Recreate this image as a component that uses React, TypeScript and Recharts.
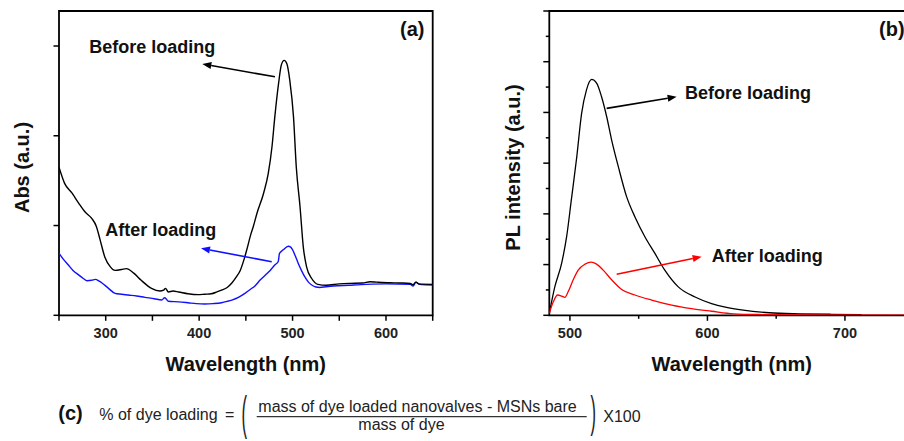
import React from 'react';
import { LineChart, Line, XAxis, YAxis, ReferenceLine, ReferenceArea } from 'recharts';

const FONT = '"Liberation Sans", Arial, Helvetica, sans-serif';

// (a) absorbance, before loading
const absBeforeNm = [250, 256, 264, 271, 278, 285, 290, 294, 299, 305, 310, 317, 322, 330, 338, 349, 358, 362, 364, 367, 372, 378, 388, 399, 406, 413, 419, 424, 430, 435, 440, 444, 448, 451, 455, 458, 462, 469, 474, 478, 481, 485, 488, 491, 494, 497, 501, 504, 508, 511.5, 515, 520.5, 527, 536, 550, 561, 575, 583, 590, 604, 615, 626, 629, 632, 635, 650];
const absBefore = [1.65, 1.47, 1.36, 1.25, 1.15, 1.08, 0.99, 0.84, 0.65, 0.54, 0.5, 0.51, 0.52, 0.47, 0.39, 0.3, 0.27, 0.28, 0.3, 0.26, 0.27, 0.26, 0.24, 0.23, 0.235, 0.24, 0.26, 0.28, 0.31, 0.36, 0.43, 0.5, 0.62, 0.73, 0.89, 0.99, 1.14, 1.36, 1.58, 1.88, 2.21, 2.58, 2.79, 2.84, 2.8, 2.62, 2.21, 1.65, 1.21, 0.76, 0.54, 0.41, 0.345, 0.335, 0.35, 0.356, 0.36, 0.374, 0.37, 0.363, 0.36, 0.355, 0.34, 0.37, 0.35, 0.345];

// (a) absorbance, after loading
const absAfterNm = [250, 255, 260, 265, 271, 276, 280, 285, 289, 293, 296, 303, 310, 317, 324, 333, 342, 352, 360, 363, 365, 367, 378, 388, 397, 406, 415, 424, 430, 435, 442, 449, 455, 460, 465, 471, 476, 481, 484.7, 486, 490, 495.5, 498, 500, 503, 506, 510, 513, 517, 520.5, 525, 529, 536, 544, 560, 579, 600, 626, 629, 632, 636, 650];
const absAfter = [0.69, 0.62, 0.56, 0.5, 0.45, 0.41, 0.385, 0.39, 0.4, 0.38, 0.36, 0.3, 0.245, 0.235, 0.226, 0.215, 0.2, 0.185, 0.17, 0.196, 0.18, 0.156, 0.15, 0.14, 0.13, 0.126, 0.13, 0.14, 0.155, 0.17, 0.2, 0.245, 0.29, 0.33, 0.39, 0.45, 0.5, 0.56, 0.6, 0.69, 0.73, 0.77, 0.76, 0.73, 0.66, 0.58, 0.49, 0.43, 0.37, 0.337, 0.315, 0.31, 0.318, 0.326, 0.335, 0.345, 0.35, 0.345, 0.325, 0.37, 0.345, 0.337];

// (b) PL intensity, before loading
const plBeforeNm = [485, 489, 494, 497.6, 501, 505, 508.5, 512, 515.8, 519.4, 523, 526.7, 530.3, 535.2, 541.2, 547.3, 554.5, 561.8, 569, 578.8, 591, 603, 613, 626, 645, 667, 690, 712];
const plBefore = [0.04, 0.56, 1.03, 1.55, 2.27, 3.13, 3.98, 4.44, 4.65, 4.58, 4.31, 3.92, 3.46, 2.93, 2.34, 1.94, 1.55, 1.22, 0.89, 0.56, 0.36, 0.23, 0.16, 0.1, 0.05, 0.03, 0.02, 0.015];

// (b) PL intensity, after loading
const plAfterNm = [485, 488, 491, 494, 496.4, 498.8, 502.4, 506, 511, 515.3, 519.4, 524.2, 530.3, 537.6, 547.3, 559.4, 574, 588.5, 603, 619, 640, 670, 750];
const plAfter = [0.04, 0.27, 0.4, 0.38, 0.355, 0.47, 0.7, 0.89, 1.01, 1.05, 1.01, 0.89, 0.7, 0.51, 0.4, 0.3, 0.2, 0.13, 0.08, 0.03, 0.015, 0.008, 0.005];

const absXTicks = [250, 300, 350, 400, 450, 500, 550, 600, 650];
const absYTicks = [0, 1, 2, 3];
const plXTicks = [500, 550, 600, 650, 700, 750];
const plYTicks = [0, 0.5, 1, 1.5, 2, 2.5, 3, 3.5, 4, 4.5, 5, 5.5, 6];

const toPoints = (xs: number[], ys: number[]) => xs.map((x, i) => ({ x, y: ys[i] }));

const makeTick = (dir: 'x' | 'y', step: number, majorLen: number, minorLen: number, labels: boolean) => (props: any) => {
  const { x, y, payload } = props;
  const v = payload.value;
  const major = Math.abs(v / step - Math.round(v / step)) < 1e-6;
  const len = major ? majorLen : minorLen;
  if (dir === 'x') {
    return (
      <g>
        <line x1={x} y1={y} x2={x} y2={y + len} stroke="#000" strokeWidth={1.5} />
        {labels && major && (
          <text x={x} y={y + 23} textAnchor="middle" fontFamily={FONT} fontWeight={700} fontSize={14.5} fill="#222">
            {v}
          </text>
        )}
      </g>
    );
  }
  return <line x1={x} y1={y} x2={x - len} y2={y} stroke="#000" strokeWidth={1.5} />;
};

const arrowShape = (color: string) => (p: any) => {
  const { x1, y1, x2, y2 } = p;
  const a = Math.atan2(y2 - y1, x2 - x1);
  const len = 9;
  const hw = 3.5;
  const bx = x2 - len * Math.cos(a);
  const by = y2 - len * Math.sin(a);
  const pts = `${x2},${y2} ${bx + hw * Math.sin(a)},${by - hw * Math.cos(a)} ${bx - hw * Math.sin(a)},${by + hw * Math.cos(a)}`;
  return (
    <g>
      <line x1={x1} y1={y1} x2={bx} y2={by} stroke={color} strokeWidth={1.6} />
      <polygon points={pts} fill={color} />
    </g>
  );
};

const boldText = { fontFamily: FONT, fontWeight: 700, fill: '#111' } as const;
const plainText = { fontFamily: FONT, fontWeight: 400, fill: '#222', fontSize: 16 } as const;

export default function App() {
  return (
    <div style={{ position: 'absolute', left: 0, top: 0, width: 904, height: 441, overflow: 'hidden', background: '#fff' }}>
      <div style={{ position: 'absolute', left: 0, top: 0 }}>
        <LineChart width={450} height={380} margin={{ top: 11, right: 17.3, bottom: 34.7, left: 39 }}>
          <XAxis
            type="number"
            dataKey="x"
            domain={[250, 650]}
            ticks={absXTicks}
            interval={0}
            allowDataOverflow
            height={30}
            axisLine={false}
            tickLine={false}
            tickSize={0}
            tickMargin={0}
            tick={makeTick('x', 100, 5.5, 5.5, true)}
          />
          <YAxis
            type="number"
            domain={[0, 3.39]}
            ticks={absYTicks}
            interval={0}
            allowDataOverflow
            width={20}
            axisLine={false}
            tickLine={false}
            tickSize={0}
            tickMargin={0}
            tick={makeTick('y', 1, 5.5, 5.5, false)}
          />
          <ReferenceArea x1={250} x2={650} y1={0} y2={3.39} fill="none" stroke="#000" strokeWidth={1.8} />
          <Line data={toPoints(absAfterNm, absAfter)} dataKey="y" type="monotone" stroke="#1010ff" strokeWidth={1.4} dot={false} activeDot={false} isAnimationActive={false} />
          <Line data={toPoints(absBeforeNm, absBefore)} dataKey="y" type="monotone" stroke="#000" strokeWidth={1.4} dot={false} activeDot={false} isAnimationActive={false} />
          <ReferenceLine segment={[{ x: 481.2, y: 2.657 }, { x: 403.4, y: 2.8 }]} shape={arrowShape('#000')} />
          <ReferenceLine segment={[{ x: 477.7, y: 0.597 }, { x: 402, y: 0.746 }]} shape={arrowShape('#1010ff')} />
        </LineChart>
      </div>
      <div style={{ position: 'absolute', left: 470, top: 0 }}>
        <LineChart width={460} height={380} margin={{ top: 11, right: 16.3, bottom: 34.7, left: 59.3 }}>
          <XAxis
            type="number"
            dataKey="x"
            domain={[485, 750]}
            ticks={plXTicks}
            interval={0}
            allowDataOverflow
            height={30}
            axisLine={false}
            tickLine={false}
            tickSize={0}
            tickMargin={0}
            tick={makeTick('x', 100, 5.5, 3.5, true)}
          />
          <YAxis
            type="number"
            domain={[0, 6]}
            ticks={plYTicks}
            interval={0}
            allowDataOverflow
            width={20}
            axisLine={false}
            tickLine={false}
            tickSize={0}
            tickMargin={0}
            tick={makeTick('y', 1, 6, 3.5, false)}
          />
          <ReferenceArea x1={485} x2={750} y1={0} y2={6} fill="none" stroke="#000" strokeWidth={1.8} />
          <Line data={toPoints(plBeforeNm, plBefore)} dataKey="y" type="monotone" stroke="#000" strokeWidth={1.3} dot={false} activeDot={false} isAnimationActive={false} />
          <Line data={toPoints(plAfterNm, plAfter)} dataKey="y" type="monotone" stroke="#ff0000" strokeWidth={1.3} dot={false} activeDot={false} isAnimationActive={false} />
          <ReferenceLine segment={[{ x: 526.7, y: 4.08 }, { x: 577.6, y: 4.31 }]} shape={arrowShape('#000')} />
          <ReferenceLine segment={[{ x: 534, y: 0.81 }, { x: 595.8, y: 1.156 }]} shape={arrowShape('#ff0000')} />
        </LineChart>
      </div>
      <svg width={904} height={441} style={{ position: 'absolute', left: 0, top: 0, pointerEvents: 'none' }}>
        {/* panel (a) */}
        <text x={400} y={36} fontSize={20} {...boldText}>(a)</text>
        <text x={89.3} y={52.7} fontSize={18} {...boldText}>Before loading</text>
        <text x={105.3} y={236} fontSize={18} {...boldText}>After loading</text>
        <text transform="translate(28.5,167.5) rotate(-90)" textAnchor="middle" fontSize={20} {...boldText}>Abs (a.u.)</text>
        <text x={245.8} y={370.5} textAnchor="middle" fontSize={20} {...boldText}>Wavelength (nm)</text>
        {/* panel (b) */}
        <text x={879} y={36} fontSize={20} {...boldText}>(b)</text>
        <text x={685} y={99.3} fontSize={18} {...boldText}>Before loading</text>
        <text x={711.7} y={262.3} fontSize={18} {...boldText}>After loading</text>
        <text transform="translate(520,167.5) rotate(-90)" textAnchor="middle" fontSize={20} {...boldText}>PL intensity (a.u.)</text>
        <text x={731.7} y={370.7} textAnchor="middle" fontSize={20} {...boldText}>Wavelength (nm)</text>
        {/* (c) formula */}
        <text x={58.3} y={419.5} fontSize={20} {...boldText}>(c)</text>
        <text x={99.3} y={420} {...plainText}>% of dye loading</text>
        <text x={225} y={420} {...plainText}>=</text>
        <text transform="translate(241.5,428.9) scale(0.55,1.55)" fontSize={30} fontFamily={FONT} fill="#222">(</text>
        <text x={258.3} y={411.5} {...plainText}>mass of dye loaded nanovalves - MSNs bare</text>
        <line x1={256.7} y1={416.7} x2={586.7} y2={416.7} stroke="#333" strokeWidth={1.3} />
        <text x={358.3} y={429.8} {...plainText}>mass of dye</text>
        <text transform="translate(590.5,427) scale(0.55,1.45)" fontSize={30} fontFamily={FONT} fill="#222">)</text>
        <text x={603.3} y={421.5} {...plainText}>X100</text>
      </svg>
    </div>
  );
}
